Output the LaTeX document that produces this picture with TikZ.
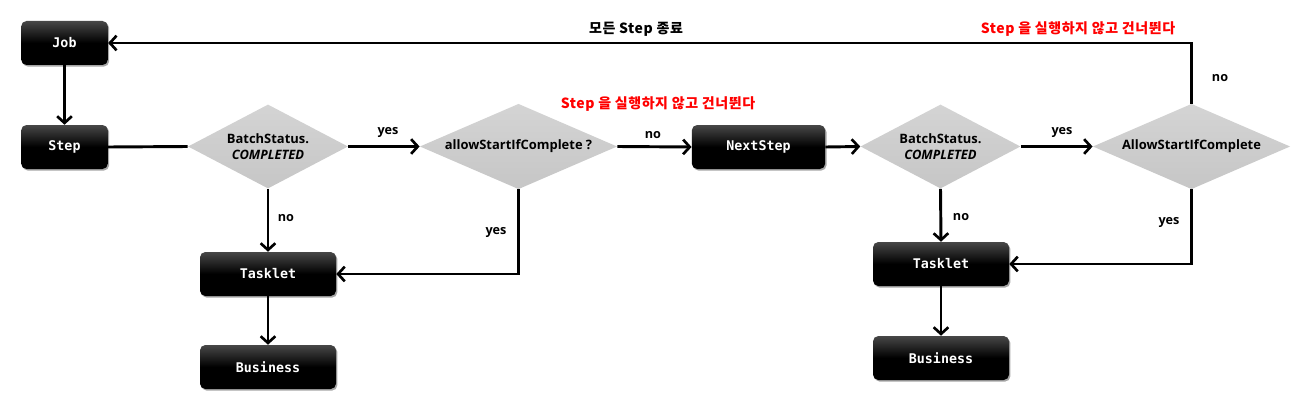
\documentclass[tikz,border=0pt]{standalone}
\usepackage{fontspec}
\setmainfont{Open Sans}
\newfontfamily\krfont[LetterSpace=4]{Noto Sans CJK KR}
\newfontfamily\boxfont{DejaVu Sans Mono}
\usetikzlibrary{shapes.geometric,arrows.meta,shadows}
\definecolor{dgray}{HTML}{C6C6C6}
\definecolor{lgray}{HTML}{D4D4D4}
\tikzset{
  blk/.style={draw=none, rounded corners=4pt, top color=black!72, bottom color=black, middle color=black,
    shading angle=0, text=white, font=\boxfont\bfseries\fontsize{10}{12}\selectfont,
    drop shadow={shadow xshift=1pt, shadow yshift=-1.2pt, opacity=0.35, fill=black},
    inner sep=0pt, minimum height=33pt},
  diam/.style={diamond, draw=none, top color=lgray, bottom color=dgray, inner sep=0pt},
  dtext/.style={font=\fontsize{9.7}{11.5}\selectfont, align=center, inner sep=0pt},
  lab/.style={font=\bfseries\fontsize{9.5}{11}\selectfont, inner sep=0pt},
  redlab/.style={font=\krfont\bfseries\fontsize{10.5}{12}\selectfont, text=red, inner sep=0pt},
  blklab/.style={font=\krfont\bfseries\fontsize{10.5}{12}\selectfont, text=black, inner sep=0pt},
  conn/.style={line width=2.2pt, -{Straight Barb[length=5pt,width=11pt,line width=2pt]}},
  plain/.style={line width=2.2pt},
}
\begin{document}
\begin{tikzpicture}[x=0.75pt,y=-0.75pt]
\useasboundingbox (0,0) rectangle (1313,403);
% boxes
\node[blk, minimum width=65pt] (job) at (64.5,43) {Job};
\node[blk, minimum width=65pt] (step) at (64.5,147) {Step};
\node[blk, minimum width=100pt] (next) at (758.5,147) {NextStep};
\node[blk, minimum width=102pt] (t1) at (268,274) {Tasklet};
\node[blk, minimum width=102pt] (b1) at (268,367) {Business};
\node[blk, minimum width=102pt] (t2) at (941,264) {Tasklet};
\node[blk, minimum width=102pt] (b2) at (941,358) {Business};
% diamonds
\node[diam, minimum width=120pt, minimum height=63pt] (d1) at (268,146.5) {};
\node[diam, minimum width=148pt, minimum height=64pt] (d2) at (518.5,146.5) {};
\node[diam, minimum width=120pt, minimum height=63pt] (d3) at (940.5,146.5) {};
\node[diam, minimum width=148pt, minimum height=64pt] (d4) at (1191.5,146.5) {};
\node[dtext] (d1t) at (d1) {{\fontseries{sb}\selectfont BatchStatus.}\\[1pt]\textbf{\textit{COMPLETED}}};
\node[dtext] (d2t) at (d2) {\fontseries{sb}\selectfont allowStartIfComplete ?};
\node[dtext] (d3t) at (d3) {{\fontseries{sb}\selectfont BatchStatus.}\\[1pt]\textbf{\textit{COMPLETED}}};
\node[dtext] (d4t) at (d4) {\fontseries{sb}\selectfont AllowStartIfComplete};
% connectors
\draw[conn] (job) -- (step);
\draw[plain] (step.east) -- (d1.west);
\draw[conn] (d1.east) -- (d2.west);
\draw[conn] (d2.east) -- (next.west);
\draw[conn] (next.east) -- (d3.west);
\draw[conn] (d3.east) -- (d4.west);
\draw[conn] (d4.north) |- (job.east);
\draw[conn] (d1.south) -- (t1.north);
\draw[conn] (d2.south) |- (t1.east);
\draw[conn] (t1) -- (b1);
\draw[conn] (d3.south) -- (t2.north);
\draw[conn] (d4.south) |- (t2.east);
\draw[conn] (t2) -- (b2);
% labels
\node[lab] (l1) at (388,132) {yes};
\node[lab] (l2) at (653,135) {no};
\node[lab] (l3) at (1062,132) {yes};
\node[lab] (l4) at (1220,78) {no};
\node[lab] (l5) at (286,218) {no};
\node[lab] (l6) at (496,232) {yes};
\node[lab] (l7) at (961,217) {no};
\node[lab] (l8) at (1169,222) {yes};
\node[blklab] (k1) at (636,29) {모든 Step 종료};
\node[redlab] (k2) at (1078,29) {Step 을 실행하지 않고 건너뛴다};
\node[redlab] (k3) at (658,104) {Step 을 실행하지 않고 건너뛴다};
\end{tikzpicture}
\end{document}
